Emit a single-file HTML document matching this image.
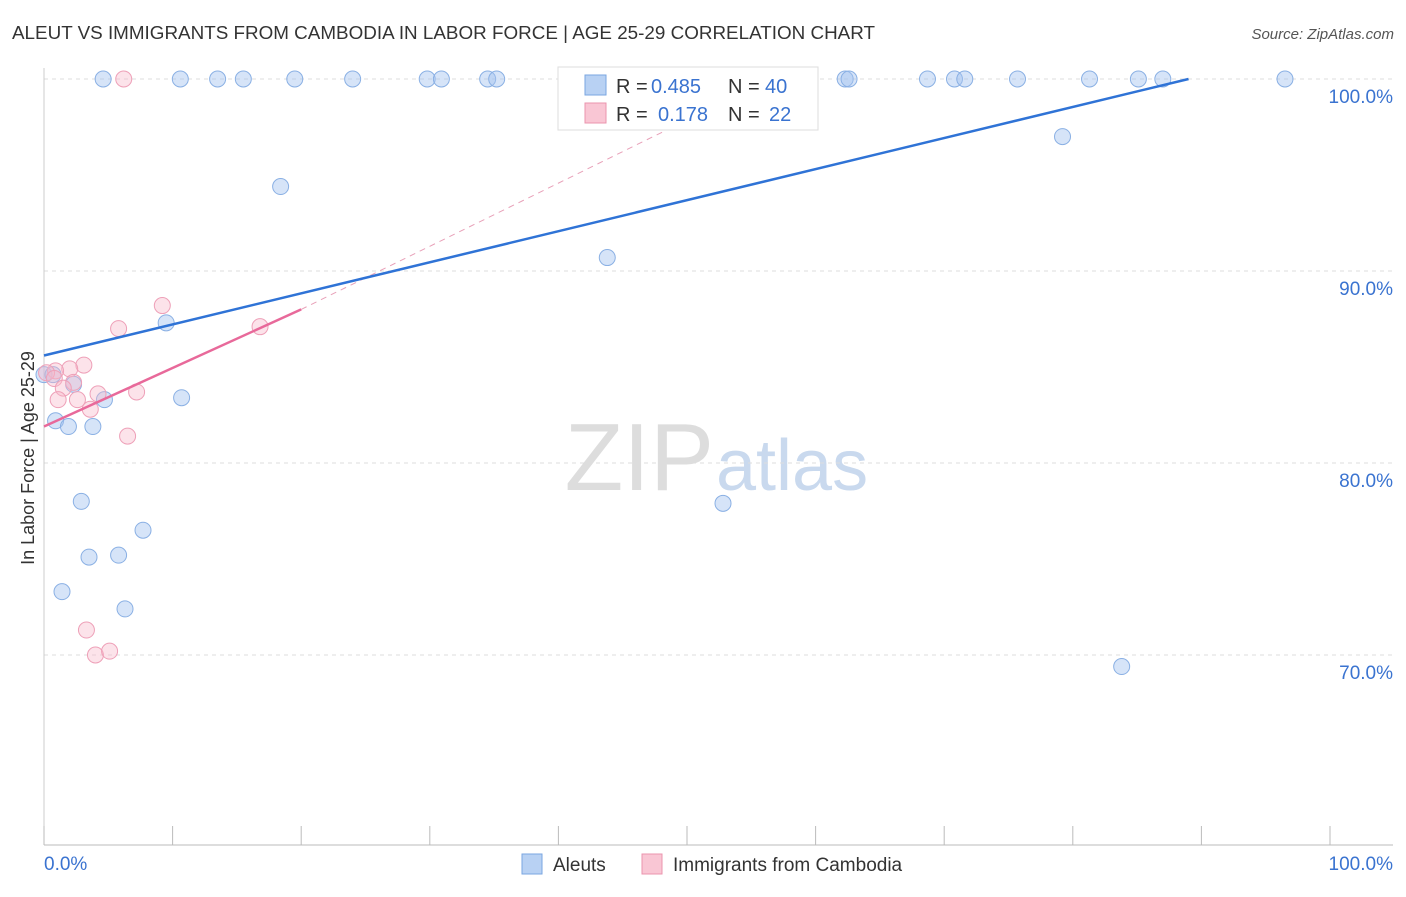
<!DOCTYPE html>
<html><head><meta charset="utf-8"><style>
body{margin:0;background:#fff;font-family:"Liberation Sans",sans-serif;}
svg text{font-family:"Liberation Sans",sans-serif;}
</style></head><body>
<svg id="c" width="1406" height="892">
<text x="12" y="39" font-size="18" fill="#333" textLength="863" lengthAdjust="spacingAndGlyphs">ALEUT VS IMMIGRANTS FROM CAMBODIA IN LABOR FORCE | AGE 25-29 CORRELATION CHART</text>
<text x="1394" y="39" font-size="15" fill="#555" text-anchor="end" font-style="italic">Source: ZipAtlas.com</text>
<text x="714" y="490" font-size="96" fill="#ddd" text-anchor="end" font-family="Liberation Serif">ZIP</text>
<text x="716" y="490" font-size="72" fill="#c9d9ee">atlas</text>
<text transform="translate(34,458) rotate(-90)" font-size="18" fill="#333" text-anchor="middle">In Labor Force | Age 25-29</text>
<g id="grid"></g><g id="marks"></g>
<g>
<rect x="558" y="67" width="260" height="63" fill="#fff" stroke="#ddd"/>
<rect x="585" y="75" width="21" height="20" fill="#b8d1f3" stroke="#7aa6e0"/>
<rect x="585" y="103" width="21" height="20" fill="#f9c6d4" stroke="#eb94ae"/>
<text x="616" y="93" font-size="20" fill="#333">R =</text>
<text x="651" y="93" font-size="20" fill="#3a73d0">0.485</text>
<text x="728" y="93" font-size="20" fill="#333">N =</text>
<text x="765" y="93" font-size="20" fill="#3a73d0">40</text>
<text x="616" y="121" font-size="20" fill="#333">R =</text>
<text x="658" y="121" font-size="20" fill="#3a73d0">0.178</text>
<text x="728" y="121" font-size="20" fill="#333">N =</text>
<text x="769" y="121" font-size="20" fill="#3a73d0">22</text>
</g>
<g>
<rect x="522" y="854" width="20" height="20" fill="#b8d1f3" stroke="#7aa6e0"/>
<text x="553" y="871" font-size="19" fill="#333">Aleuts</text>
<rect x="642" y="854" width="20" height="20" fill="#f9c6d4" stroke="#eb94ae"/>
<text x="673" y="871" font-size="19" fill="#333">Immigrants from Cambodia</text>
</g>
</svg>
<script>
const yTicks=[100,90,80,70];
const xTickLabels=["0.0%","100.0%"];
const blueX=[4.6,10.6,13.5,15.5,19.5,24.0,29.8,30.9,34.5,35.2,57.5,62.3,62.6,68.7,70.8,71.6,75.7,81.3,85.1,87.0,96.5,79.2,18.4,43.8,9.5,10.7,4.7,2.3,0,0.7,0.9,1.9,3.8,2.9,52.8,7.7,3.5,5.8,1.4,6.3,83.8];
const blueY=[100,100,100,100,100,100,100,100,100,100,100,100,100,100,100,100,100,100,100,100,100,97.0,94.4,90.7,87.3,83.4,83.3,84.1,84.6,84.6,82.2,81.9,81.9,78.0,77.9,76.5,75.1,75.2,73.3,72.4,69.4];
const pinkX=[6.2,9.2,16.8,5.8,3.1,2.0,0.9,0.2,0.8,2.3,1.5,4.2,7.2,1.1,2.6,3.6,6.5,3.3,4.0,5.1];
const pinkY=[100,88.2,87.1,87.0,85.1,84.9,84.8,84.7,84.4,84.2,83.9,83.6,83.7,83.3,83.3,82.8,81.4,71.3,70.0,70.2];
const blueLine=[0,85.6,89.0,100];
const pinkLine=[0,81.9,20,88.0];
const pinkDash=[20,88.0,56.5,100];
const X=v=>44+v*12.86, Y=v=>79+(100-v)*19.2;
const NS="http://www.w3.org/2000/svg";
const svg=document.getElementById('c'),grid=document.getElementById('grid'),marks=document.getElementById('marks');
function mk(t,a,p){const e=document.createElementNS(NS,t);for(const k in a)e.setAttribute(k,a[k]);(p||svg).appendChild(e);return e;}
yTicks.forEach(v=>{
 const l=mk('line',{x1:44,x2:1393,y1:Y(v),y2:Y(v),stroke:'#ddd','stroke-dasharray':'4,4'},grid);
 
 
 const t=mk('text',{x:1393,y:Y(v)+24,'font-size':19,fill:'#3a73d0','text-anchor':'end'},grid);
 t.textContent=v.toFixed(1)+'%';
 
 
});
const ax=mk('line',{x1:44,x2:1393,y1:845,y2:845,stroke:'#bbb'},grid);


const ay=mk('line',{x1:44,x2:44,y1:68,y2:845,stroke:'#ccc'},grid);


for(let i=0;i<=10;i++){const t=mk('line',{x1:X(i*10),x2:X(i*10),y1:826,y2:845,stroke:'#bbb'},grid);
 
 }
xTickLabels.forEach((s,i)=>{const t=mk('text',{x:i?1393:44,y:870,'font-size':19,fill:'#3a73d0','text-anchor':i?'end':'start'},grid);t.textContent=s;
 
 });
blueX.forEach((x,i)=>{const c=mk('circle',{cx:X(x),cy:Y(blueY[i]),r:8,fill:'rgba(164,196,240,0.45)',stroke:'#8ab0e4'},marks);
 
 });
pinkX.forEach((x,i)=>{const c=mk('circle',{cx:X(x),cy:Y(pinkY[i]),r:8,fill:'rgba(248,184,202,0.4)',stroke:'#eea0b8'},marks);
 
 });
const pd=mk('line',{x1:X(pinkDash[0]),y1:Y(pinkDash[1]),x2:X(pinkDash[2]),y2:Y(pinkDash[3]),stroke:'#e8a0b8','stroke-dasharray':'6,5'},marks);


const bl=mk('line',{x1:X(blueLine[0]),y1:Y(blueLine[1]),x2:X(blueLine[2]),y2:Y(blueLine[3]),stroke:'#2f73d6','stroke-width':2.5},marks);


const pl=mk('line',{x1:X(pinkLine[0]),y1:Y(pinkLine[1]),x2:X(pinkLine[2]),y2:Y(pinkLine[3]),stroke:'#e8699a','stroke-width':2.5},marks);


</script>
</body></html>
